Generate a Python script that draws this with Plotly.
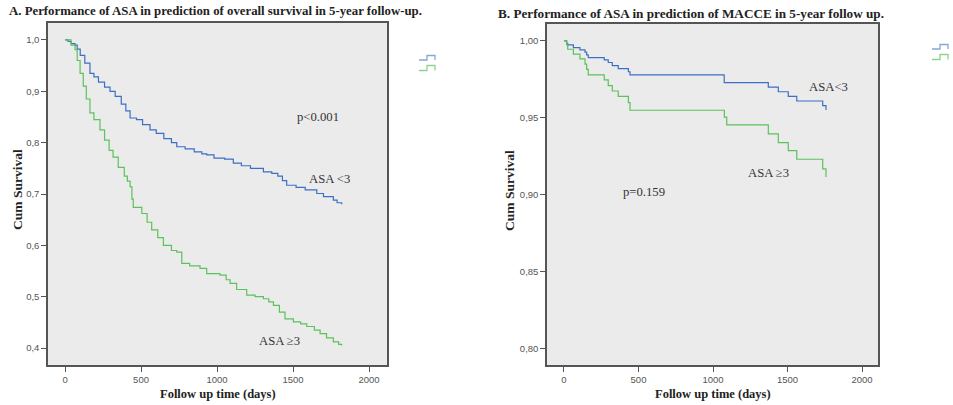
import plotly.graph_objects as go

W, H = 953, 405

# ---------------- data ----------------
# Panel A: overall survival
a_low_days = [0, 20, 40, 66, 80, 100, 130, 164, 190, 220, 260, 296, 330, 370, 400, 428, 470, 510,
              559, 600, 650, 700, 735, 790, 850, 900, 932, 980, 1050, 1107, 1160, 1220, 1305, 1360,
              1400, 1430, 1458, 1520, 1580, 1656, 1700, 1765, 1790, 1820]
a_low_surv = [1.000, 0.997, 0.993, 0.990, 0.982, 0.970, 0.955, 0.935, 0.928, 0.918, 0.908, 0.900,
              0.890, 0.875, 0.862, 0.848, 0.845, 0.835, 0.825, 0.818, 0.808, 0.800, 0.792, 0.788,
              0.782, 0.778, 0.776, 0.770, 0.768, 0.760, 0.755, 0.750, 0.743, 0.740, 0.735, 0.726,
              0.717, 0.713, 0.708, 0.701, 0.695, 0.688, 0.683, 0.680]

a_high_days = [0, 40, 66, 80, 99, 120, 140, 164, 190, 230, 260, 290, 316, 350, 390, 410, 428, 440,
               449, 505, 540, 570, 610, 647, 700, 735, 768, 820, 888, 932, 1020, 1060, 1086, 1129,
               1195, 1250, 1305, 1340, 1371, 1410, 1447, 1502, 1550, 1590, 1640, 1678, 1720, 1765,
               1800, 1820]
a_high_surv = [1.000, 0.990, 0.981, 0.960, 0.935, 0.910, 0.885, 0.858, 0.845, 0.825, 0.805, 0.785,
               0.772, 0.752, 0.735, 0.725, 0.714, 0.690, 0.674, 0.662, 0.645, 0.630, 0.615, 0.600,
               0.590, 0.587, 0.565, 0.560, 0.555, 0.545, 0.542, 0.533, 0.526, 0.514, 0.503, 0.500,
               0.496, 0.490, 0.483, 0.470, 0.457, 0.451, 0.447, 0.442, 0.435, 0.428, 0.420, 0.412,
               0.407, 0.405]

# Panel B: MACCE
b_low_days = [0, 18, 25, 63, 107, 141, 152, 163, 270, 297, 324, 364, 432, 443, 1075, 1371, 1438,
              1505, 1562, 1736, 1758, 1762]
b_low_surv = [1.000, 0.9985, 0.9974, 0.9957, 0.9942, 0.9927, 0.991, 0.9892, 0.9877, 0.986, 0.984,
              0.982, 0.980, 0.978, 0.973, 0.970, 0.967, 0.964, 0.961, 0.958, 0.9556, 0.9556]

b_high_days = [0, 18, 25, 63, 107, 141, 152, 163, 270, 297, 324, 364, 432, 443, 1076, 1092, 1371,
               1438, 1505, 1562, 1736, 1758, 1762]
b_high_surv = [1.000, 0.9974, 0.9946, 0.9914, 0.9883, 0.985, 0.9816, 0.978, 0.9747, 0.971, 0.9675,
               0.964, 0.960, 0.955, 0.9505, 0.9455, 0.9396, 0.934, 0.9288, 0.9232, 0.917, 0.912, 0.912]

x_ticks = [0, 500, 1000, 1500, 2000]
x_ticktext = ["0", "500", "1000", "1500", "2000"]
a_yticks = [0.4, 0.5, 0.6, 0.7, 0.8, 0.9, 1.0]
a_yticktext = ["0,4", "0,5", "0,6", "0,7", "0,8", "0,9", "1,0"]
b_yticks = [0.80, 0.85, 0.90, 0.95, 1.00]
b_yticktext = ["0,80", "0,85", "0,90", "0,95", "1,00"]

title_a = "A. Performance of ASA in prediction of overall survival in 5-year follow-up."
title_b = "B. Performance of ASA in prediction of MACCE in 5-year follow up."

# ---------------- style ----------------
BLUE = "#3d6fc6"
GREEN = "#5cc25c"
SERIF = "Liberation Serif, Times New Roman, serif"
SANS = "Liberation Sans, Arial, sans-serif"

fig = go.Figure()

def px_x(p):
    return p / W

def px_y(p):
    return 1 - p / H

fig.add_trace(go.Scatter(x=a_low_days, y=a_low_surv, mode="lines", line=dict(color=BLUE, width=1.2, shape="hv"),
                         xaxis="x", yaxis="y", showlegend=False, hoverinfo="skip"))
fig.add_trace(go.Scatter(x=a_high_days, y=a_high_surv, mode="lines", line=dict(color=GREEN, width=1.2, shape="hv"),
                         xaxis="x", yaxis="y", showlegend=False, hoverinfo="skip"))
fig.add_trace(go.Scatter(x=b_low_days, y=b_low_surv, mode="lines", line=dict(color=BLUE, width=1.2, shape="hv"),
                         xaxis="x2", yaxis="y2", showlegend=False, hoverinfo="skip"))
fig.add_trace(go.Scatter(x=b_high_days, y=b_high_surv, mode="lines", line=dict(color=GREEN, width=1.2, shape="hv"),
                         xaxis="x2", yaxis="y2", showlegend=False, hoverinfo="skip"))

axis_common = dict(showline=True, linecolor="#555555", linewidth=1.5, mirror=True, showgrid=False,
                   zeroline=False, ticks="outside", ticklen=5, tickcolor="#555555", tickwidth=1,
                   tickfont=dict(family=SANS, size=9.5, color="#555555"), automargin=False)

fig.update_layout(
    width=W, height=H,
    margin=dict(l=0, r=0, t=0, b=0),
    paper_bgcolor="white",
    plot_bgcolor="#ebebeb",
    showlegend=False,
    xaxis=dict(domain=[px_x(48), px_x(387)], range=[-112, 2118], anchor="y",
               tickvals=x_ticks, ticktext=x_ticktext, **axis_common),
    yaxis=dict(domain=[px_y(365), px_y(23)], range=[0.367, 1.033], anchor="x",
               tickvals=a_yticks, ticktext=a_yticktext, **axis_common),
    xaxis2=dict(domain=[px_x(547), px_x(878)], range=[-114, 2107], anchor="y2",
                tickvals=x_ticks, ticktext=x_ticktext, **axis_common),
    yaxis2=dict(domain=[px_y(365), px_y(24)], range=[0.7896, 1.011], anchor="x2",
                tickvals=b_yticks, ticktext=b_yticktext, **axis_common),
)

ann = []
# titles
ann.append(dict(text="<b>" + title_a + "</b>", x=px_x(7), y=px_y(11), xref="paper", yref="paper",
                xanchor="left", yanchor="middle", showarrow=False, font=dict(family=SERIF, size=12.8, color="#222")))
ann.append(dict(text="<b>" + title_b + "</b>", x=px_x(496), y=px_y(14), xref="paper", yref="paper",
                xanchor="left", yanchor="middle", showarrow=False, font=dict(family=SERIF, size=13.2, color="#222")))
# axis titles
for cx in (217.5, 712.5):
    ann.append(dict(text="<b>Follow up time (days)</b>", x=px_x(cx), y=px_y(394), xref="paper", yref="paper",
                    xanchor="center", yanchor="middle", showarrow=False, font=dict(family=SERIF, size=12.5, color="#222")))
for cx in (17, 509):
    ann.append(dict(text="<b>Cum Survival</b>", x=px_x(cx), y=px_y(190), xref="paper", yref="paper",
                    xanchor="center", yanchor="middle", textangle=-90, showarrow=False,
                    font=dict(family=SERIF, size=13.5, color="#222")))
# in-plot labels
lab_font = dict(family=SERIF, size=12.7, color="#333")
ann.append(dict(text="p<0.001", x=1665, y=0.85, xref="x", yref="y", showarrow=False, font=lab_font))
ann.append(dict(text="ASA <3", x=1737, y=0.729, xref="x", yref="y", showarrow=False, font=lab_font))
ann.append(dict(text="ASA ≥3", x=1408, y=0.413, xref="x", yref="y", showarrow=False, font=lab_font))
ann.append(dict(text="ASA<3", x=1772, y=0.970, xref="x2", yref="y2", showarrow=False, font=lab_font))
ann.append(dict(text="ASA ≥3", x=1369, y=0.914, xref="x2", yref="y2", showarrow=False, font=lab_font))
ann.append(dict(text="p=0.159", x=537, y=0.902, xref="x2", yref="y2", showarrow=False, font=lab_font))
fig.update_layout(annotations=ann)

# legend glyph stubs (SPSS legend without text)
def stub(x0, ylow, yhigh, color):
    pts = [(x0, ylow), (x0 + 8, ylow), (x0 + 8, yhigh), (x0 + 16, yhigh), (x0 + 16, ylow)]
    path = "M " + " L ".join(f"{px_x(a):.5f},{px_y(b):.5f}" for a, b in pts)
    return dict(type="path", path=path, xref="paper", yref="paper", line=dict(color=color, width=1.3))

shapes = [
    stub(419, 60, 55.5, "#86a6dc"),
    stub(419, 70.5, 65.5, "#8ed38e"),
    stub(932, 49, 44.5, "#86a6dc"),
    stub(932, 59.5, 54.5, "#8ed38e"),
]
fig.update_layout(shapes=shapes)

fig.write_html("out.html", config={"displayModeBar": False},
               post_script="document.body.style.margin='0';document.body.style.overflow='hidden';")
